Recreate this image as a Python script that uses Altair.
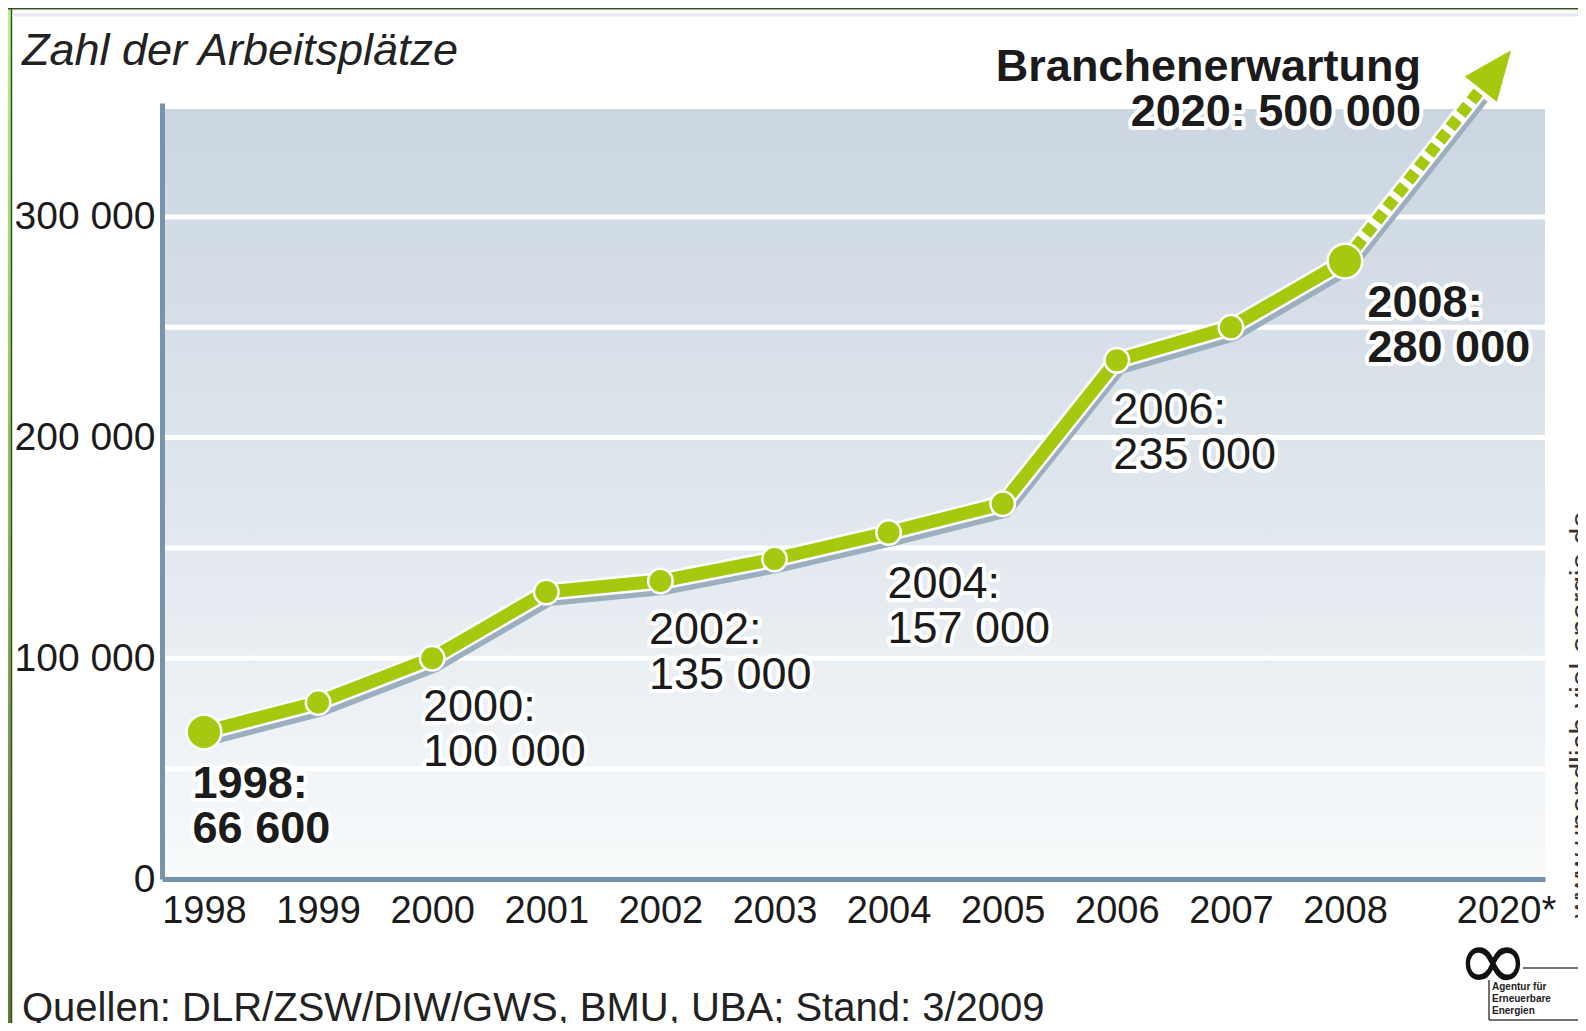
import altair as alt
import pandas as pd

# ---------------- data ----------------
years = [1998, 1999, 2000, 2001, 2002, 2003, 2004, 2005, 2006, 2007, 2008]
jobs = [66600, 80000, 100000, 130000, 135000, 145000, 157000, 170000, 235000, 250000, 280000]
big_point_years = [1998, 2008]

forecast_years = [2008, 2018.06]
forecast_jobs = [280000, 357500]
arrow_years = [2019.29]
arrow_jobs = [367000]

label_years = [1998, 2000, 2002, 2004, 2006, 2008]
label_values = ["66 600", "100 000", "135 000", "157 000", "235 000", "280 000"]
label_bold = [True, False, False, False, False, True]
label_x = [1997.90, 1999.92, 2001.90, 2003.99, 2005.97, 2009.68]
label_y = [36700, 71600, 106500, 127400, 206200, 254600]

forecast_label = "Branchenerwartung\n2020: 500 000"
forecast_label_x = [2013.66]
forecast_label_y = [361600]

x_tick_years = years + [2020]
y_label_values = [0, 100000, 200000, 300000]
grid_values = [50000, 100000, 150000, 200000, 250000, 300000, 350000]

title_text = "Zahl der Arbeitsplätze"
source_text = "Quellen: DLR/ZSW/DIW/GWS, BMU, UBA; Stand: 3/2009"
url_text = "www.unendlich-viel-energie.de"
logo_lines = ["Agentur für", "Erneuerbare", "Energien"]

# ---------------- styles ----------------
FONT = "Liberation Sans"
GREEN = "#a6c80e"
SHADOW = "#9cafbe"
AXIS = "#7794ac"
TXT = "#1b1b1b"
W, H = 1383, 776

df = pd.DataFrame({"year": years, "jobs": jobs})
fc = pd.DataFrame({"year": forecast_years, "jobs": forecast_jobs})
arrow = pd.DataFrame({"year": arrow_years, "jobs": arrow_jobs})
labels = pd.DataFrame({
    "year": label_x, "jobs": label_y, "bold": label_bold,
    "text": [f"{y}:\n{v}" for y, v in zip(label_years, label_values)],
})
flabel = pd.DataFrame({"year": forecast_label_x, "jobs": forecast_label_y, "text": [forecast_label]})
grid = pd.DataFrame({"jobs": grid_values})

x_scale = alt.Scale(domain=[1997.632, 2008, 2020, 2022.907], range=[0, 1183, 1344, 1383], nice=False, zero=False)
y_scale = alt.Scale(domain=[0, 351600], nice=False, zero=False)

x_axis = alt.Axis(
    values=x_tick_years, format="d",
    labelExpr="datum.value == 2020 ? '2020*' : datum.label",
    grid=False, ticks=False, domainColor=AXIS, domainWidth=5, zindex=1,
    labelFont=FONT, labelFontSize=38, labelColor=TXT, labelPadding=13,
    labelBaseline="top", labelFlush=False, labelOverlap=False,
)
y_axis = alt.Axis(
    values=y_label_values,
    labelExpr="replace(format(datum.value, ','), ',', ' ')",
    grid=False, ticks=False, domainColor=AXIS, domainWidth=5, zindex=1,
    labelFont=FONT, labelFontSize=39, labelColor=TXT, labelPadding=7,
    labelFlush=False, labelOverlap=False,
)

XE = alt.X("year:Q", scale=x_scale, axis=x_axis, title=None)
YE = alt.Y("jobs:Q", scale=y_scale, axis=y_axis, title=None)


def dummy():
    return alt.Chart(pd.DataFrame({"k": [0]}))


# background gradient band (0 .. 350 000)
bg = alt.Chart(pd.DataFrame({"jobs": [350000], "lo": [0]})).mark_rect(
    fill=alt.Gradient(
        gradient="linear",
        stops=[
            alt.GradientStop(color="#cbd6e1", offset=0),
            alt.GradientStop(color="#dfe6ed", offset=0.5),
            alt.GradientStop(color="#f8fafb", offset=1),
        ],
        x1=0, x2=0, y1=0, y2=1,
    )
).encode(y=YE, y2="lo:Q", x=alt.value(0), x2=alt.value(W))

grid_layer = alt.Chart(grid).mark_rule(color="white", strokeWidth=5).encode(y=YE)

shadow_main = alt.Chart(df).mark_line(color=SHADOW, strokeWidth=12, xOffset=3, yOffset=8, strokeJoin="round").encode(x=XE, y=YE)
shadow_fc = alt.Chart(fc).mark_line(color=SHADOW, strokeWidth=12, xOffset=3, yOffset=8).encode(x=XE, y=YE)

under_main = alt.Chart(df).mark_line(color="white", strokeWidth=18, strokeJoin="round").encode(x=XE, y=YE)
under_fc = alt.Chart(fc).mark_line(color="white", strokeWidth=17).encode(x=XE, y=YE)
line_main = alt.Chart(df).mark_line(color=GREEN, strokeWidth=13, strokeJoin="round").encode(x=XE, y=YE)
line_fc = alt.Chart(fc).mark_line(color=GREEN, strokeWidth=12, strokeDash=[11, 6], strokeCap="butt").encode(x=XE, y=YE)

arrow_head = alt.Chart(arrow).mark_point(
    shape="M0,-1L0.83,1L-0.83,1Z", size=2809, angle=38, filled=True,
    fill=GREEN, stroke="white", strokeWidth=2, opacity=1,
).encode(x=XE, y=YE)

big_pts = alt.Chart(df).transform_filter(
    alt.FieldOneOfPredicate(field="year", oneOf=big_point_years)
).mark_circle(size=1200, color=GREEN, stroke="white", strokeWidth=2.5, opacity=1).encode(x=XE, y=YE)
small_pts = alt.Chart(df).transform_filter(
    ~alt.FieldOneOfPredicate(field="year", oneOf=big_point_years)
).mark_circle(size=600, color=GREEN, stroke="white", strokeWidth=2.5, opacity=1).encode(x=XE, y=YE)


def label_layers(data, bold, align="left", filt=None):
    base = alt.Chart(data)
    if filt is not None:
        base = base.transform_filter(filt)
    kw = dict(font=FONT, fontSize=45, fontWeight="bold" if bold else "normal", align=align,
              baseline="alphabetic", lineBreak="\n", lineHeight=45)
    halo = base.mark_text(fill="white", stroke="white", strokeWidth=8, strokeJoin="round", **kw).encode(
        x=XE, y=YE, text="text:N")
    txt = base.mark_text(fill=TXT, **kw).encode(x=XE, y=YE, text="text:N")
    return [halo, txt]


lab_bold = label_layers(labels, True, filt="datum.bold")
lab_norm = label_layers(labels, False, filt="!datum.bold")
lab_fc = label_layers(flabel, True, align="right")

# decorations (pixel placed, relative to the plot origin)
title = dummy().mark_text(text=title_text, font=FONT, fontSize=45, fontStyle="italic", color="#222",
                          align="left", baseline="alphabetic").encode(x=alt.value(-140), y=alt.value(-38))
source = dummy().mark_text(text=source_text, font=FONT, fontSize=40, color="#222",
                           align="left", baseline="alphabetic").encode(x=alt.value(-140), y=alt.value(918))
url = dummy().mark_text(text=url_text, font=FONT, fontSize=30, color="#333", angle=270,
                        align="left", baseline="alphabetic").encode(x=alt.value(1429), y=alt.value(815))

infinity = dummy().mark_text(text="∞", font="DejaVu Sans", fontSize=88, color="#111",
                             align="center", baseline="middle").encode(x=alt.value(1331), y=alt.value(861))
logo_txt = alt.Chart(pd.DataFrame({"t": logo_lines, "i": [0, 1, 2]})).transform_calculate(
    py="887 + datum.i * 12"
).mark_text(font=FONT, fontSize=10, fontWeight="bold", color="#222", align="left", baseline="alphabetic").encode(
    x=alt.value(1330), y=alt.Y("py:Q", scale=None), text="t:N")
logo_r1 = dummy().mark_rule(color="#444", strokeWidth=1.5).encode(
    x=alt.value(1361), x2=alt.value(1420), y=alt.value(865))
logo_r2 = dummy().mark_rule(color="#444", strokeWidth=1.5).encode(
    x=alt.value(1327), y=alt.value(877), y2=alt.value(917))
logo_r3 = dummy().mark_rule(color="#444", strokeWidth=1.5).encode(
    x=alt.value(1327), x2=alt.value(1420), y=alt.value(917))

frame_left = dummy().mark_rect(
    fill=alt.Gradient(gradient="linear",
                      stops=[alt.GradientStop(color="#bdf08b", offset=0),
                             alt.GradientStop(color="#8fb85e", offset=0.5),
                             alt.GradientStop(color="#5b7a3a", offset=1)],
                      x1=0, x2=0, y1=0, y2=1)
).encode(x=alt.value(-154), x2=alt.value(-151), y=alt.value(-95), y2=alt.value(920))
frame_line_l = dummy().mark_rule(color="#35501f", strokeWidth=1.5).encode(
    x=alt.value(-150.5), y=alt.value(-95), y2=alt.value(920))
frame_line_t = dummy().mark_rule(color="#35501f", strokeWidth=1.5).encode(
    x=alt.value(-154), x2=alt.value(1420), y=alt.value(-94.3))
top_band = dummy().mark_rule(color="#e3e8ee", strokeWidth=3).encode(
    x=alt.value(-150), x2=alt.value(1420), y=alt.value(-88))

chart = alt.layer(
    bg, grid_layer,
    shadow_main, shadow_fc, under_main, under_fc, line_main, line_fc,
    arrow_head, small_pts, big_pts,
    *lab_norm, *lab_bold, *lab_fc,
    title, source, url, infinity, logo_txt, logo_r1, logo_r2, logo_r3,
    frame_left, frame_line_l, frame_line_t, top_band,
).properties(
    width=W, height=H,
    autosize=alt.AutoSizeParams(type="none"),
    padding={"left": 154, "top": 95, "right": 33, "bottom": 144},
    background="white",
).configure_view(stroke=None).configure_axis(domainColor=AXIS, domainWidth=5)

chart.save("out.html", embed_options={"renderer": "svg", "actions": False})
